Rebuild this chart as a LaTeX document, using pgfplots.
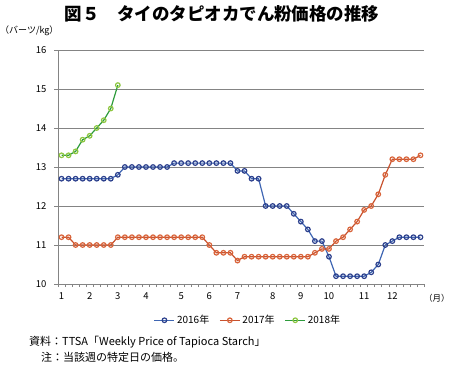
\documentclass[border=0pt]{standalone}
\usepackage{fontspec}
\setmainfont{Noto Sans CJK JP}
\usepackage{pgfplots}
\pgfplotsset{compat=1.18}
\definecolor{l16}{HTML}{3F66B3}
\definecolor{m16}{HTML}{2B3F8C}
\definecolor{l17}{HTML}{C8522E}
\definecolor{m17}{HTML}{D9643A}
\definecolor{l18}{HTML}{2E9B3C}
\definecolor{m18}{HTML}{8DC63F}
\definecolor{gridc}{HTML}{848484}
\begin{document}
\begin{tikzpicture}
\path[use as bounding box] (0pt,0pt) rectangle (450pt,365pt);
\node[font=\bfseries\fontsize{17.5}{19}\selectfont] at (222pt,351pt) {図５\quad タイのタピオカでん粉価格の推移};
\node[font=\fontsize{9}{10}\selectfont, anchor=west, inner sep=0pt] at (0pt,334pt) {（バーツ/kg）};
\node[font=\fontsize{8.5}{9}\selectfont, anchor=west, inner sep=0pt] at (424pt,67pt) {（月）};
\node[font=\fontsize{11}{12}\selectfont, anchor=west, inner sep=0pt] at (29pt,23pt) {資料：TTSA「Weekly Price of Tapioca Starch」};
\node[font=\fontsize{11}{12}\selectfont, anchor=west, inner sep=0pt] at (41pt,8pt) {注：当該週の特定日の価格。};
\begin{axis}[
  at={(58pt,81pt)}, anchor=south west,
  scale only axis, width=366pt, height=234pt,
  xmin=-0.5, xmax=51.5, ymin=10, ymax=16,
  axis x line=bottom, axis y line=left,
  axis line style={-, gridc, line width=0.8pt},
  ytick={10,11,...,16},
  ymajorgrids, grid style={gridc, line width=0.8pt},
  xtick={0,4,8,12,17,21,25,30,34,38,43,47},
  xticklabels={1,2,3,4,5,6,7,8,9,10,11,12},
  minor xtick={-0.5,0.5,...,51.5},
  tick align=outside,
  major tick length=4pt,
  x tick style={draw=none},
  minor x tick style={draw=gridc, line width=0.6pt},
  minor tick length=3pt,
  y tick style={gridc, line width=0.8pt},
  tick label style={font=\fontsize{9.5}{10}\selectfont},
  xticklabel style={yshift=-1pt},
  yticklabel style={xshift=-4pt},
  /pgf/number format/assume math mode=true,
  legend style={at={(0.519,-0.155)}, anchor=center, draw=none, font=\fontsize{10}{11}\selectfont, legend columns=3, /tikz/every even column/.append style={column sep=8pt}},
  legend image code/.code={\draw[#1, mark repeat=2, mark phase=2] plot coordinates {(0pt,0pt) (10pt,0pt) (20pt,0pt)};},
  every axis plot/.append style={line width=1.2pt, mark=o, mark size=2.3pt, mark options={solid, line width=0.8pt, fill=white}},
]
\addplot[l16, mark options={draw=m16, fill=white}] coordinates {
(0,12.7)(1,12.7)(2,12.7)(3,12.7)(4,12.7)(5,12.7)(6,12.7)(7,12.7)(8,12.8)
(9,13.0)(10,13.0)(11,13.0)(12,13.0)(13,13.0)(14,13.0)(15,13.0)
(16,13.1)(17,13.1)(18,13.1)(19,13.1)(20,13.1)(21,13.1)(22,13.1)(23,13.1)(24,13.1)
(25,12.9)(26,12.9)(27,12.7)(28,12.7)
(29,12.0)(30,12.0)(31,12.0)(32,12.0)(33,11.8)(34,11.6)(35,11.4)(36,11.1)(37,11.1)(38,10.7)
(39,10.2)(40,10.2)(41,10.2)(42,10.2)(43,10.2)(44,10.3)(45,10.5)(46,11.0)(47,11.1)
(48,11.2)(49,11.2)(50,11.2)(51,11.2)};
\addlegendentry{2016年}
\addplot[l17, mark options={draw=m17, fill=white}] coordinates {
(0,11.2)(1,11.2)(2,11.0)(3,11.0)(4,11.0)(5,11.0)(6,11.0)(7,11.0)
(8,11.2)(9,11.2)(10,11.2)(11,11.2)(12,11.2)(13,11.2)(14,11.2)(15,11.2)(16,11.2)(17,11.2)(18,11.2)(19,11.2)(20,11.2)
(21,11.0)(22,10.8)(23,10.8)(24,10.8)(25,10.6)
(26,10.7)(27,10.7)(28,10.7)(29,10.7)(30,10.7)(31,10.7)(32,10.7)(33,10.7)(34,10.7)(35,10.7)
(36,10.8)(37,10.9)(38,10.9)(39,11.1)(40,11.2)(41,11.4)(42,11.6)(43,11.9)(44,12.0)(45,12.3)(46,12.8)
(47,13.2)(48,13.2)(49,13.2)(50,13.2)(51,13.3)};
\addlegendentry{2017年}
\addplot[l18, mark options={draw=m18, fill=white}] coordinates {
(0,13.3)(1,13.3)(2,13.4)(3,13.7)(4,13.8)(5,14.0)(6,14.2)(7,14.5)(8,15.1)};
\addlegendentry{2018年}
\end{axis}
\end{tikzpicture}
\end{document}
